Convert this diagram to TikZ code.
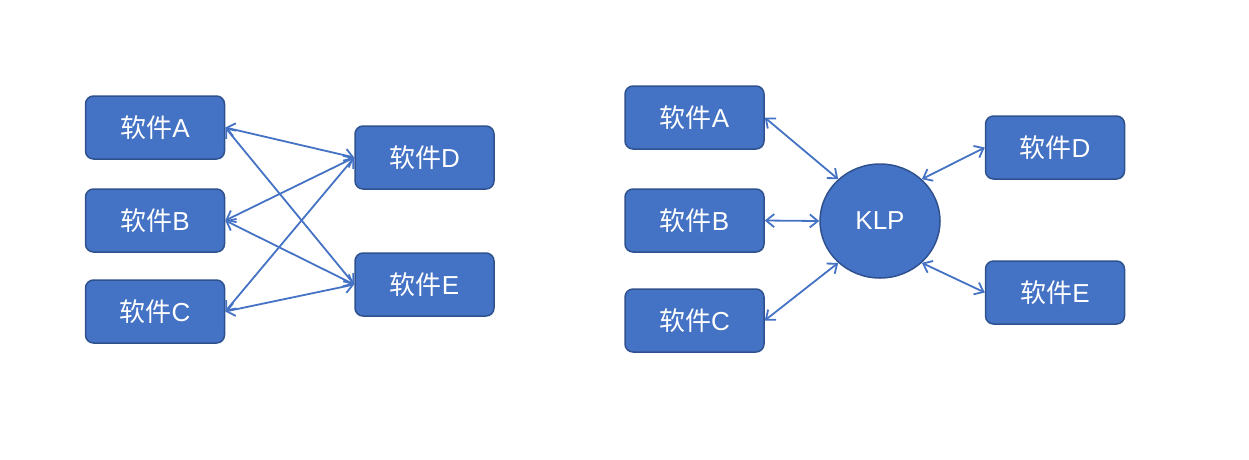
\documentclass[tikz,border=0pt]{standalone}
\usepackage{fontspec}
\setmainfont{Liberation Sans}
\newfontfamily\cjk{Noto Sans CJK SC}
\usetikzlibrary{arrows.meta,shapes.geometric}
\definecolor{boxfill}{HTML}{4472C4}
\definecolor{boxline}{HTML}{2F528F}
\newcommand{\rj}{{\cjk 软件}}
\begin{document}
\begin{tikzpicture}[x=1pt,y=-1pt,
  soft/.style={draw=boxline,line width=1.5pt,fill=boxfill,rounded corners=8pt,
    minimum width=139pt,minimum height=63pt,inner sep=0pt,text=white,
    font=\fontsize{26}{30}\selectfont},
  hub/.style={draw=boxline,line width=1.5pt,fill=boxfill,ellipse,
    minimum width=120pt,minimum height=114pt,inner sep=0pt,text=white,
    font=\fontsize{26}{30}\selectfont},
  link/.style={draw=boxfill,line width=1.8pt,
    {Straight Barb[length=8pt,width=13pt]}-{Straight Barb[length=8pt,width=13pt]}}]
\useasboundingbox (0,0) rectangle (1249,459);
% left
\node[soft] (la) at (155,127.5) {\rj A};
\node[soft] (lb) at (155,220.5) {\rj B};
\node[soft] (lc) at (155,311.5) {\rj C};
\node[soft] (ld) at (424.5,157.5) {\rj D};
\node[soft] (le) at (424.5,284.5) {\rj E};
\draw[link] (la.east) -- (ld.west);
\draw[link] (la.east) -- (le.west);
\draw[link] (lb.east) -- (ld.west);
\draw[link] (lb.east) -- (le.west);
\draw[link] (lc.east) -- (ld.west);
\draw[link] (lc.east) -- (le.west);
% right
\node[soft] (ra) at (694.5,117.5) {\rj A};
\node[soft] (rb) at (694.5,220.5) {\rj B};
\node[soft] (rc) at (694.5,320.5) {\rj C};
\node[soft] (rd) at (1055,147.5) {\rj D};
\node[soft] (re) at (1055,292.5) {\rj E};
\node[hub] (klp) at (880,221) {KLP};
\draw[link] (ra.east) -- (klp.135);
\draw[link] (rb.east) -- (klp.west);
\draw[link] (rc.east) -- (klp.225);
\draw[link] (rd.west) -- (klp.45);
\draw[link] (re.west) -- (klp.315);
\end{tikzpicture}
\end{document}
